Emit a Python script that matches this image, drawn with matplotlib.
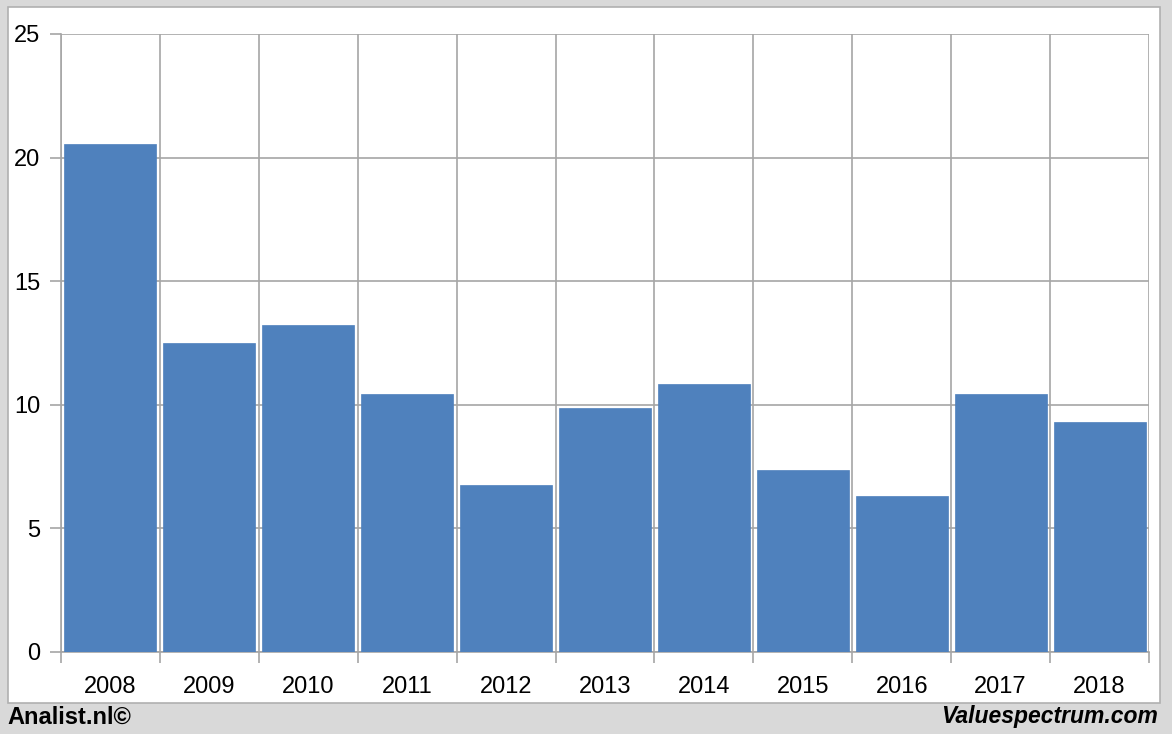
import numpy as np
import matplotlib
matplotlib.use('Agg')
import matplotlib.pyplot as plt
from matplotlib.patches import Rectangle

years = ['2008', '2009', '2010', '2011', '2012', '2013', '2014', '2015', '2016', '2017', '2018']
values = [20.55, 12.5, 13.22, 10.43, 6.76, 9.87, 10.84, 7.36, 6.31, 10.43, 9.3]
y_ticks = [0, 5, 10, 15, 20, 25]

plt.rcParams['font.family'] = ['Liberation Sans', 'DejaVu Sans']

W, H = 1172, 734
fig = plt.figure(figsize=(W / 100, H / 100), dpi=100)
fig.patch.set_facecolor('#d9d9d9')

# white panel behind the chart
fig.patches.append(Rectangle((8 / W, 1 - 703 / H), (1160 - 8) / W, (703 - 7) / H,
                             transform=fig.transFigure, facecolor='white',
                             edgecolor='#b0b0b0', linewidth=1.2, zorder=-5))

ax = fig.add_axes([61 / W, 1 - 652 / H, (1149 - 61) / W, (652 - 34) / H])
ax.set_facecolor('none')
x = np.arange(len(years))
ax.bar(x, values, width=0.93, color='#4f81bd', edgecolor='#4f81bd', linewidth=0.5, zorder=3)

ax.set_xlim(-0.5, len(years) - 0.5)
ax.set_ylim(0, 25)
ax.set_yticks(y_ticks)
ax.set_xticks(x)
ax.set_xticklabels(years)
ax.set_xticks(np.arange(-0.5, len(years)), minor=True)

grid_c = '#a6a6a6'
ax.grid(axis='y', which='major', color=grid_c, linewidth=1.2, zorder=1)
ax.grid(axis='x', which='minor', color=grid_c, linewidth=1.2, zorder=1)
ax.grid(axis='x', which='major', visible=False)
ax.tick_params(axis='x', which='major', length=0, pad=17, labelsize=17)
ax.tick_params(axis='x', which='minor', length=8, color=grid_c, width=1.2)
ax.tick_params(axis='y', length=8, color=grid_c, width=1.2, pad=7, labelsize=17)
for s in ['top', 'right']:
    ax.spines[s].set_visible(False)
ax.spines['left'].set_color(grid_c)
ax.spines['bottom'].set_color(grid_c)
ax.spines['left'].set_linewidth(1.2)
ax.spines['bottom'].set_linewidth(1.2)
ax.set_axisbelow(True)

fig.text(7 / W, 1 - 717 / H, 'Analist.nl©', fontsize=17, fontweight='bold', va='center', ha='left')
fig.text(1158 / W, 1 - 717 / H, 'Valuespectrum.com', fontsize=16.5, fontweight='bold',
         fontstyle='italic', va='center', ha='right')

fig.savefig('out.png', dpi=100, facecolor=fig.get_facecolor())
